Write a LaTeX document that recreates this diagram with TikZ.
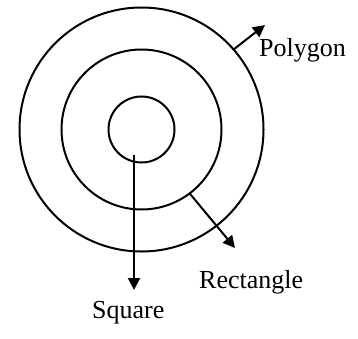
\documentclass[tikz,border=0pt]{standalone}
\usepackage{fontspec}
\setmainfont{Liberation Serif}
\usetikzlibrary{arrows.meta,positioning}
\tikzset{
  ring/.style = {circle, draw=black, line width=2pt, inner sep=0pt,
                 outer sep=0pt},
  lbl/.style  = {inner sep=0pt, anchor=base west,
                 font=\fontsize{26}{30}\selectfont},
  arr/.style  = {-{Triangle[length=12pt,width=12pt]}, line width=2pt,
                 draw=black}
}
\begin{document}
\begin{tikzpicture}[x=1pt,y=1pt]
  \useasboundingbox (0,0) rectangle (358,338);
  % the three rings
  \coordinate (c) at (141.5,208.5);
  \node[ring, minimum size=244pt] (outer) at (c) {};
  \node[ring, minimum size=160pt] (middle) at (c) {};
  \node[ring, minimum size=66pt] (inner) at (c) {};
  % labels
  \node[lbl] (square) at (92,20) {Square};
  \node[lbl] (rect) at (199,50) {Rectangle};
  \node[lbl] (poly) at (259,281) {Polygon};
  % arrow ends
  \coordinate (s0) at (134,183);
  \coordinate (s1) at (134,48);
  \coordinate (r1) at (235,90);
  \coordinate (p1) at (265,313);
  \draw[arr] (s0) -- (s1);
  \draw[arr] (middle.-53) -- (r1);
  \draw[arr] (outer.41.7) -- (p1);
\end{tikzpicture}
\end{document}
